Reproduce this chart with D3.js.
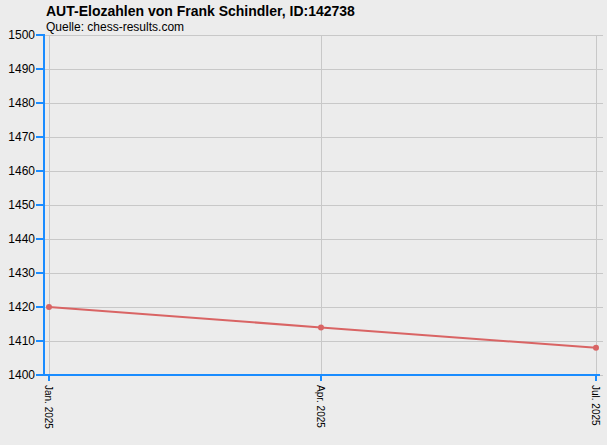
<!DOCTYPE html>
<html>
<head>
<meta charset="utf-8">
<script src="https://d3js.org/d3.v7.min.js"></script>
<style>
  body { margin: 0; background: #ececec; }
  svg { display: block; font-family: "Liberation Sans", Arial, sans-serif; }
</style>
</head>
<body>
<svg id="chart" width="607" height="445"></svg>
<script>
// data
var dates = ["2025-01-01", "2025-04-01", "2025-07-01"];
var dateLabels = ["Jan. 2025", "Apr. 2025", "Jul. 2025"];
var elo = [1420, 1414, 1408];
var yTicks = [1400, 1410, 1420, 1430, 1440, 1450, 1460, 1470, 1480, 1490, 1500];

var parse = d3.timeParse("%Y-%m-%d");
var points = dates.map(function(d, i){ return { date: parse(d), value: elo[i], label: dateLabels[i] }; });

var svg = d3.select("#chart");
// note: "top" is taken by window.top, so plot edges get their own names
var plotL = 44, plotR = 603, plotT = 35, plotB = 375;

svg.append("rect").attr("width", 607).attr("height", 445).attr("fill", "#ececec");

var x = d3.scaleTime().domain([points[0].date, points[2].date]).range([49, 596]);
var y = d3.scaleLinear().domain([1400, 1500]).range([plotB, plotT]);

// gridlines
svg.append("g").selectAll("line").data(yTicks).enter().append("line")
  .attr("x1", plotL).attr("x2", plotR)
  .attr("y1", function(d){ return y(d) + 0.5; }).attr("y2", function(d){ return y(d) + 0.5; })
  .attr("stroke", "#c8c8c8").attr("stroke-width", 1);
svg.append("g").selectAll("line").data(points).enter().append("line")
  .attr("x1", function(d){ return x(d.date) + 0.5; }).attr("x2", function(d){ return x(d.date) + 0.5; })
  .attr("y1", plotT).attr("y2", plotB)
  .attr("stroke", "#c8c8c8").attr("stroke-width", 1);

// series
var line = d3.line().x(function(d){ return x(d.date); }).y(function(d){ return y(d.value); });
svg.append("path").datum(points).attr("d", line)
  .attr("fill", "none").attr("stroke", "#d96464").attr("stroke-width", 2);
svg.append("g").selectAll("circle").data(points).enter().append("circle")
  .attr("cx", function(d){ return x(d.date); }).attr("cy", function(d){ return y(d.value); })
  .attr("r", 3).attr("fill", "#d96464");

// axes
var blue = "#1a8cff";
var yAxis = svg.append("g");
yAxis.append("line").attr("x1", plotL).attr("x2", plotL).attr("y1", plotT - 1).attr("y2", plotB + 1)
  .attr("stroke", blue).attr("stroke-width", 2);
yAxis.selectAll("line.t").data(yTicks).enter().append("line").attr("class", "t")
  .attr("x1", plotL - 8).attr("x2", plotL)
  .attr("y1", function(d){ return y(d); }).attr("y2", function(d){ return y(d); })
  .attr("stroke", blue).attr("stroke-width", 2);
yAxis.selectAll("text").data(yTicks).enter().append("text")
  .attr("x", plotL - 9).attr("y", function(d){ return y(d) + 4; })
  .attr("text-anchor", "end").attr("font-size", 12).attr("fill", "#000")
  .text(function(d){ return d; });

var xAxis = svg.append("g");
xAxis.append("line").attr("x1", plotL - 1).attr("x2", 600).attr("y1", plotB).attr("y2", plotB)
  .attr("stroke", blue).attr("stroke-width", 2);
xAxis.selectAll("line.t").data(points).enter().append("line").attr("class", "t")
  .attr("x1", function(d){ return x(d.date); }).attr("x2", function(d){ return x(d.date); })
  .attr("y1", plotB).attr("y2", plotB + 6)
  .attr("stroke", blue).attr("stroke-width", 2);
xAxis.selectAll("text").data(points).enter().append("text")
  .attr("transform", function(d){ return "translate(" + (x(d.date) - 4) + "," + (plotB + 10) + ") rotate(90)"; })
  .attr("font-size", 10).attr("fill", "#000")
  .text(function(d){ return d.label; });

// titles
svg.append("text").attr("x", 46).attr("y", 16).attr("font-size", 14).attr("font-weight", "bold")
  .text("AUT-Elozahlen von Frank Schindler, ID:142738");
svg.append("text").attr("x", 46).attr("y", 31).attr("font-size", 12)
  .text("Quelle: chess-results.com");
</script>
</body>
</html>
